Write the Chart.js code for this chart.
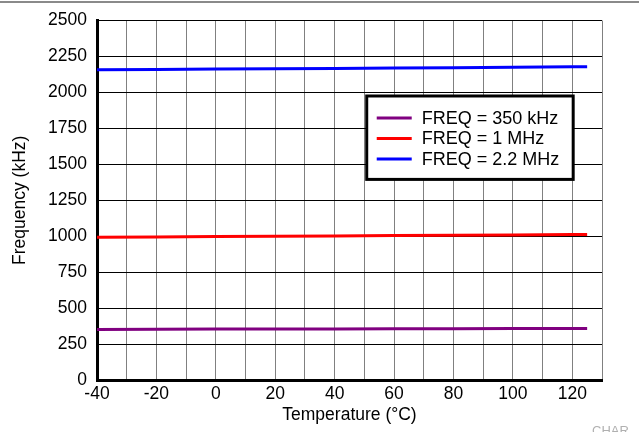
<!DOCTYPE html>
<html>
<head>
<meta charset="utf-8">
<script src="https://cdn.jsdelivr.net/npm/chart.js@4/dist/chart.umd.min.js"></script>
<style>
  body { margin: 0; background: #fff; }
  #chart { display: block; }
</style>
</head>
<body>
<canvas id="chart" width="639" height="432"></canvas>
<script>
// temperature points (°C)
const temps = [-40, -20, 0, 20, 40, 60, 80, 100, 120, 125];
// frequency in kHz per switching setting
const freq350k = [352, 353, 354, 355, 355, 356, 357, 358, 359, 359];
const freq1M = [992, 995, 998, 1000, 1002, 1004, 1006, 1008, 1011, 1012];
const freq2M2 = [2157, 2160, 2163, 2165, 2167, 2170, 2172, 2175, 2178, 2179];
const seriesLabels = ['FREQ = 350 kHz', 'FREQ = 1 MHz', 'FREQ = 2.2 MHz'];
const seriesColors = ['#800080', '#ff0000', '#0000ff'];

const FONT = 'Liberation Sans, Arial, sans-serif';
const FS = 17.5;

function pts(ys) {
    return temps.map((t, i) => ({ x: t, y: ys[i] }));
}

// legend box inside the plot, like the datasheet figure
const boxLegend = {
    id: 'boxLegend',
    afterDraw(chart) {
        const ctx = chart.ctx;
        const x = chart.scales.x, y = chart.scales.y;
        const left = x.getPixelForValue(50.8), right = x.getPixelForValue(120.3);
        const top = y.getPixelForValue(1975), bottom = y.getPixelForValue(1395);
        ctx.save();
        ctx.fillStyle = '#fff';
        ctx.fillRect(left, top, right - left, bottom - top);
        ctx.strokeStyle = '#000';
        ctx.lineWidth = 3;
        ctx.strokeRect(left, top, right - left, bottom - top);
        ctx.font = '18px ' + FONT;
        ctx.textBaseline = 'middle';
        chart.data.datasets.forEach((ds, i) => {
            const cy = top + 22 + i * 20.5;
            ctx.strokeStyle = ds.borderColor;
            ctx.lineWidth = 3;
            ctx.beginPath();
            ctx.moveTo(left + 10, cy);
            ctx.lineTo(left + 45, cy);
            ctx.stroke();
            ctx.fillStyle = '#000';
            ctx.fillText(ds.label, left + 55, cy + 1);
        });
        ctx.restore();
    }
};

const decor = {
    id: 'decor',
    beforeDraw(chart) {
        const ctx = chart.ctx;
        ctx.save();
        ctx.fillStyle = '#fff';
        ctx.fillRect(0, 0, chart.width, chart.height);
        ctx.fillStyle = '#8a8a8a';
        ctx.fillRect(0, 1, chart.width, 2);
        ctx.restore();
    },
    afterDraw(chart) {
        const ctx = chart.ctx;
        ctx.save();
        ctx.fillStyle = '#b0b0b0';
        ctx.font = '13px ' + FONT;
        ctx.textBaseline = 'alphabetic';
        ctx.fillText('CHAR', 592, 435);
        ctx.restore();
    }
};

new Chart(document.getElementById('chart'), {
    type: 'line',
    data: {
        datasets: [
            { label: seriesLabels[0], data: pts(freq350k), borderColor: seriesColors[0] },
            { label: seriesLabels[1], data: pts(freq1M), borderColor: seriesColors[1] },
            { label: seriesLabels[2], data: pts(freq2M2), borderColor: seriesColors[2] }
        ]
    },
    options: {
        responsive: false,
        animation: false,
        events: [],
        datasets: {
            line: { borderWidth: 3, pointRadius: 0, tension: 0, fill: false }
        },
        layout: { padding: { left: 10, right: 37, top: 8, bottom: 4 } },
        plugins: {
            legend: { display: false },
            tooltip: { enabled: false }
        },
        scales: {
            x: {
                type: 'linear',
                min: -40,
                max: 130,
                afterFit(scale) { scale.height = 48; },
                ticks: {
                    stepSize: 10,
                    autoSkip: false,
                    maxRotation: 0,
                    padding: 4,
                    color: '#000',
                    font: { family: FONT, size: FS },
                    callback: v => (v % 20 === 0 && v <= 120) ? String(v) : ''
                },
                grid: { color: '#808080', lineWidth: 1, drawTicks: false },
                border: { color: '#000', width: 3 },
                title: {
                    display: true,
                    text: 'Temperature (°C)',
                    color: '#000',
                    font: { family: FONT, size: FS },
                    padding: { top: 0, bottom: 2 }
                }
            },
            y: {
                min: 0,
                max: 2500,
                afterFit(scale) { scale.width = 87; },
                ticks: {
                    stepSize: 250,
                    padding: 10,
                    color: '#000',
                    font: { family: FONT, size: FS },
                    callback: v => String(v)
                },
                grid: { color: '#000', lineWidth: 1, drawTicks: false },
                border: { color: '#000', width: 3 },
                title: {
                    display: true,
                    text: 'Frequency (kHz)',
                    color: '#000',
                    font: { family: FONT, size: FS },
                    padding: { top: 0, bottom: 4 }
                }
            }
        }
    },
    plugins: [decor, boxLegend]
});
</script>
</body>
</html>
